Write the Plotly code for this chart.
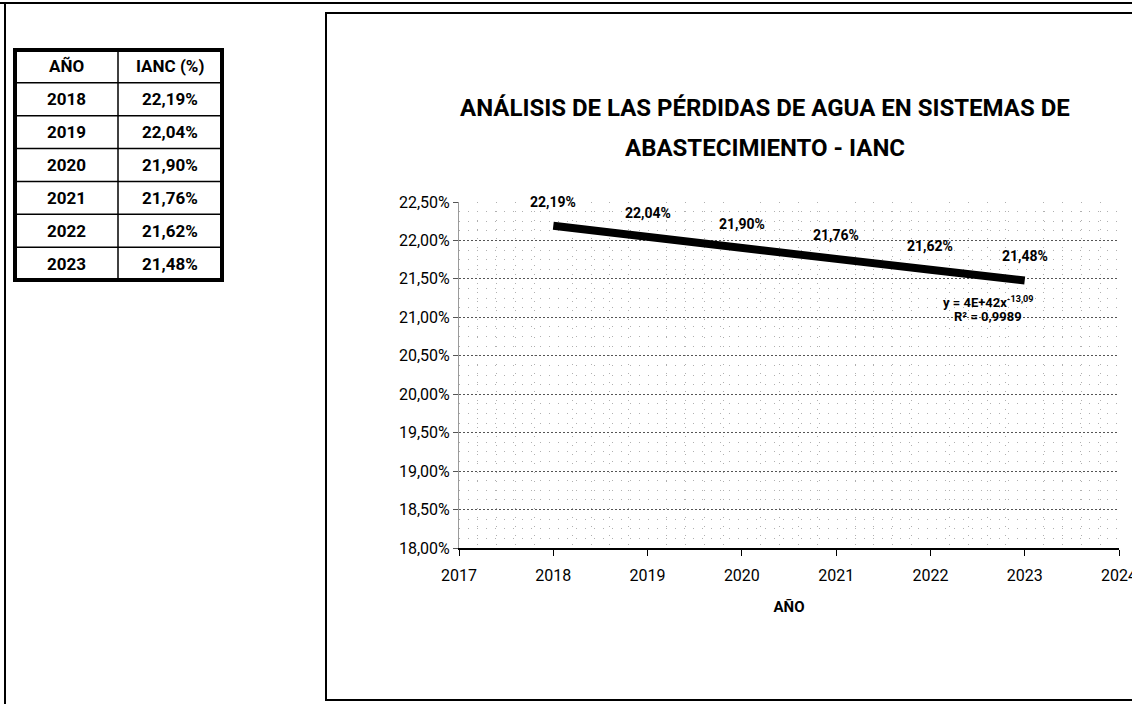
import plotly.graph_objects as go

# ---------------- data ----------------
years = [2018, 2019, 2020, 2021, 2022, 2023]
ianc = [22.19, 22.04, 21.90, 21.76, 21.62, 21.48]   # IANC (%)
table_header = ["AÑO", "IANC (%)"]
chart_title = ["ANÁLISIS DE LAS PÉRDIDAS DE AGUA EN SISTEMAS DE", "ABASTECIMIENTO - IANC"]
x_title = "AÑO"
trend_eq = "y = 4E+42x<sup>-13,09</sup>"
trend_r2 = "R² = 0,9989"

W, H = 1132, 704
FONT = "Roboto, Lato, DejaVu Sans, sans-serif"


def px(x):
    return x / W


def py(y):
    return 1 - y / H


def pct(v):
    return f"{v:.2f}".replace(".", ",") + "%"


def note(x, y, text, size, bold=True, xref="paper", yref="paper", yshift=0):
    return dict(
        x=x, y=y, xref=xref, yref=yref, text=text, showarrow=False,
        xanchor="center", yanchor="middle", yshift=yshift,
        font=dict(family=FONT, size=size, color="black", weight="bold" if bold else "normal"),
    )


fig = go.Figure()
fig.add_trace(go.Scatter(
    x=years, y=ianc, mode="lines",
    line=dict(color="black", width=8),
    showlegend=False, hoverinfo="x+y",
))

annotations = []
# data labels
for yr, v in zip(years, ianc):
    annotations.append(note(yr, v, pct(v), 14, xref="x", yref="y", yshift=24))
# trendline equation
annotations.append(note(px(988), py(302), trend_eq, 13))
annotations.append(note(px(988), py(316), trend_r2, 13))
# chart title (two lines)
for txt, yy in zip(chart_title, [108, 148]):
    annotations.append(note(px(765), py(yy), txt, 24))

shapes = []
# page frame lines
shapes.append(dict(type="line", xref="paper", yref="paper", x0=0, x1=1,
                   y0=py(3), y1=py(3), line=dict(color="black", width=2)))
shapes.append(dict(type="line", xref="paper", yref="paper", x0=px(5), x1=px(5),
                   y0=py(3), y1=0, line=dict(color="black", width=2)))
# chart box
shapes.append(dict(type="rect", xref="paper", yref="paper", x0=px(326), x1=1.02,
                   y0=py(700), y1=py(13), line=dict(color="black", width=2)))

# ---------------- table ----------------
tl, tr, tdiv = 15, 222, 118
ttop, tbot = 50, 280
nrows = len(years) + 1
rh = (tbot - ttop) / nrows
for i in range(1, nrows):
    yy = ttop + i * rh
    shapes.append(dict(type="line", xref="paper", yref="paper", x0=px(tl), x1=px(tr),
                       y0=py(yy), y1=py(yy), line=dict(color="black", width=1.5)))
shapes.append(dict(type="line", xref="paper", yref="paper", x0=px(tdiv), x1=px(tdiv),
                   y0=py(ttop), y1=py(tbot), line=dict(color="black", width=1.5)))
shapes.append(dict(type="rect", xref="paper", yref="paper", x0=px(tl), x1=px(tr),
                   y0=py(tbot), y1=py(ttop), line=dict(color="black", width=4)))
cx1, cx2 = (tl + tdiv) / 2, (tdiv + tr) / 2
rows = [table_header] + [[str(y), pct(v)] for y, v in zip(years, ianc)]
for i, (a, b) in enumerate(rows):
    yc = ttop + (i + 0.5) * rh
    annotations.append(note(px(cx1), py(yc), a, 17))
    annotations.append(note(px(cx2), py(yc), b, 17))

fig.update_layout(
    width=W, height=H,
    margin=dict(l=0, r=0, t=0, b=0, pad=0),
    paper_bgcolor="white", plot_bgcolor="white",
    separators=", ",
    font=dict(family=FONT, color="black"),
    annotations=annotations, shapes=shapes,
    showlegend=False,
)

fig.update_xaxes(
    domain=[px(459), px(1119)],
    range=[2017, 2024], dtick=1, tick0=2017,
    automargin=False, ticklabeloverflow="allow", ticklabelstandoff=6,
    showline=True, linecolor="black", linewidth=1.5,
    ticks="outside", ticklen=6, tickcolor="black",
    showgrid=False, zeroline=False,
    minor=dict(dtick=0.2, showgrid=True, gridcolor="#b0b0b0", griddash="1px,8px", gridwidth=1),
    tickfont=dict(family=FONT, size=16, color="black"),
    title=dict(text=x_title, standoff=18, font=dict(family=FONT, size=15, color="black", weight="bold")),
)
fig.update_yaxes(
    domain=[py(548), py(202)],
    range=[18, 22.5], dtick=0.5, tick0=18,
    automargin=False,
    tickformat=".2f", ticksuffix="%",
    showline=True, linecolor="#9a9a9a", linewidth=1,
    ticks="outside", ticklen=5, tickcolor="#555",
    showgrid=True, gridcolor="#555", griddash="2px,2px", gridwidth=1,
    zeroline=False,
    minor=dict(dtick=0.125, showgrid=True, gridcolor="#b0b0b0", griddash="1px,8px", gridwidth=1),
    tickfont=dict(family=FONT, size=16, color="black"),
)

fig.write_html("out.html", config={"displayModeBar": False},
               post_script="document.body.style.margin='0';document.body.style.overflow='hidden';")
